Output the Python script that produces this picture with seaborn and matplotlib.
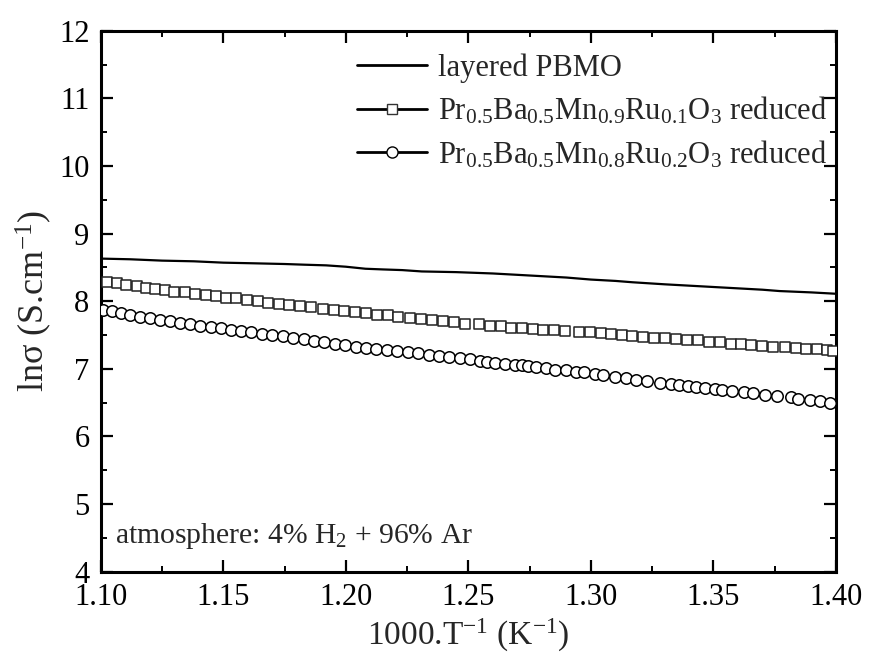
import numpy as np
import pandas as pd
import seaborn as sns
import matplotlib.pyplot as plt
from matplotlib.lines import Line2D
from matplotlib.ticker import MultipleLocator

# layered PBMO (solid line)
pbmo_x = [1.100, 1.112, 1.125, 1.138, 1.150, 1.163, 1.175, 1.183, 1.192, 1.200,
          1.208, 1.215, 1.223, 1.231, 1.245, 1.260, 1.270, 1.280, 1.290, 1.300,
          1.310, 1.317, 1.330, 1.340, 1.350, 1.360, 1.370, 1.377, 1.390, 1.400]
pbmo_y = [8.63, 8.62, 8.60, 8.59, 8.57, 8.56, 8.55, 8.54, 8.53, 8.51,
          8.48, 8.47, 8.46, 8.44, 8.43, 8.41, 8.39, 8.37, 8.35, 8.32,
          8.30, 8.28, 8.25, 8.23, 8.21, 8.19, 8.17, 8.15, 8.13, 8.11]

# Pr0.5Ba0.5Mn0.9Ru0.1O3 reduced (squares)
ru1_x = [1.1025, 1.1065, 1.1105, 1.1148, 1.1185, 1.1222, 1.1262, 1.1301, 1.1342, 1.1385,
         1.1428, 1.1470, 1.1512, 1.1553, 1.1597, 1.1640, 1.1683, 1.1726, 1.1770, 1.1815,
         1.1860, 1.1905, 1.1950, 1.1993, 1.2038, 1.2083, 1.2128, 1.2172, 1.2215, 1.2260,
         1.2306, 1.2350, 1.2395, 1.2440, 1.2485, 1.2545, 1.2590, 1.2633, 1.2675, 1.2720,
         1.2762, 1.2805, 1.2850, 1.2893, 1.2950, 1.2995, 1.3040, 1.3083, 1.3125, 1.3168,
         1.3212, 1.3258, 1.3303, 1.3348, 1.3392, 1.3436, 1.3480, 1.3525, 1.3570, 1.3612,
         1.3655, 1.3700, 1.3745, 1.3790, 1.3835, 1.3878, 1.3922, 1.3965, 1.3988]
ru1_y = [8.29, 8.27, 8.24, 8.22, 8.20, 8.18, 8.16, 8.14, 8.13, 8.11,
         8.09, 8.07, 8.05, 8.04, 8.02, 8.00, 7.98, 7.96, 7.95, 7.93,
         7.91, 7.89, 7.87, 7.85, 7.84, 7.82, 7.80, 7.79, 7.77, 7.75,
         7.74, 7.72, 7.70, 7.69, 7.67, 7.66, 7.64, 7.63, 7.61, 7.60,
         7.59, 7.58, 7.57, 7.56, 7.55, 7.54, 7.53, 7.52, 7.50, 7.49,
         7.47, 7.46, 7.45, 7.44, 7.43, 7.42, 7.40, 7.39, 7.37, 7.36,
         7.35, 7.34, 7.33, 7.32, 7.31, 7.30, 7.29, 7.28, 7.27]

# Pr0.5Ba0.5Mn0.8Ru0.2O3 reduced (circles)
ru2_x = [1.1010, 1.1045, 1.1082, 1.1120, 1.1160, 1.1200, 1.1240, 1.1282, 1.1322, 1.1365,
         1.1405, 1.1448, 1.1490, 1.1530, 1.1572, 1.1615, 1.1658, 1.1700, 1.1742, 1.1785,
         1.1828, 1.1870, 1.1912, 1.1955, 1.1998, 1.2040, 1.2083, 1.2125, 1.2168, 1.2210,
         1.2252, 1.2295, 1.2338, 1.2380, 1.2422, 1.2465, 1.2505, 1.2548, 1.2578, 1.2610,
         1.2650, 1.2690, 1.2720, 1.2745, 1.2775, 1.2815, 1.2855, 1.2898, 1.2940, 1.2970,
         1.3015, 1.3050, 1.3098, 1.3145, 1.3185, 1.3230, 1.3280, 1.3325, 1.3360, 1.3395,
         1.3430, 1.3465, 1.3505, 1.3535, 1.3575, 1.3625, 1.3660, 1.3710, 1.3760, 1.3815,
         1.3845, 1.3893, 1.3935, 1.3975]
ru2_y = [7.87, 7.85, 7.82, 7.80, 7.77, 7.75, 7.72, 7.70, 7.68, 7.66,
         7.64, 7.62, 7.60, 7.58, 7.56, 7.54, 7.52, 7.50, 7.48, 7.46,
         7.44, 7.41, 7.39, 7.37, 7.35, 7.33, 7.31, 7.30, 7.28, 7.26,
         7.25, 7.23, 7.21, 7.19, 7.17, 7.16, 7.14, 7.12, 7.10, 7.09,
         7.07, 7.06, 7.05, 7.04, 7.03, 7.01, 6.99, 6.98, 6.96, 6.95,
         6.93, 6.91, 6.88, 6.86, 6.84, 6.82, 6.79, 6.78, 6.76, 6.75,
         6.73, 6.72, 6.70, 6.69, 6.67, 6.66, 6.64, 6.62, 6.60, 6.58,
         6.56, 6.54, 6.52, 6.50]

labels = ['layered PBMO',
          'Pr$_{0.5}$Ba$_{0.5}$Mn$_{0.9}$Ru$_{0.1}$O$_3$ reduced',
          'Pr$_{0.5}$Ba$_{0.5}$Mn$_{0.8}$Ru$_{0.2}$O$_3$ reduced']

sns.set_style('ticks')
plt.rcParams['font.family'] = ['Liberation Serif', 'DejaVu Serif']
plt.rcParams['mathtext.fontset'] = 'custom'
plt.rcParams['mathtext.rm'] = 'Liberation Serif'
plt.rcParams['mathtext.it'] = 'Liberation Serif:italic'
plt.rcParams['mathtext.default'] = 'rm'

fig = plt.figure(figsize=(8.69, 6.56), dpi=100)
ax = fig.add_axes([0.1159, 0.1285, 0.8461, 0.8247])

sns.lineplot(x=pbmo_x, y=pbmo_y, ax=ax, color='black', linewidth=1.6)
sns.scatterplot(x=ru1_x, y=ru1_y, ax=ax, marker='s', s=45, facecolor='white',
                edgecolor='#222222', linewidth=1.1, zorder=3)
sns.scatterplot(x=ru2_x, y=ru2_y, ax=ax, marker='o', s=68, facecolor='white',
                edgecolor='black', linewidth=1.1, zorder=4)

ax.set_xlim(1.10, 1.40)
ax.set_ylim(4, 12)
ax.xaxis.set_major_locator(MultipleLocator(0.05))
ax.xaxis.set_minor_locator(MultipleLocator(0.025))
ax.yaxis.set_major_locator(MultipleLocator(1))
ax.yaxis.set_minor_locator(MultipleLocator(0.5))
ax.set_xticklabels([f'{v:.2f}' for v in ax.get_xticks()])

ax.tick_params(which='both', direction='in', top=True, right=True,
               labelsize=22, pad=8, colors='black')
ax.tick_params(which='major', length=8.5, width=1.6)
ax.tick_params(which='minor', length=4.5, width=1.4)
for sp in ax.spines.values():
    sp.set_linewidth(2.2)
    sp.set_color('black')

ax.set_xlabel('1000.T$^{-1}$ (K$^{-1}$)', fontsize=24, labelpad=4)
ax.set_ylabel('ln\u03c3 (S.cm$^{-1}$)', fontsize=26, labelpad=4)

ax.text(0.019, 0.053, 'atmosphere: 4% H$_2$ + 96% Ar', transform=ax.transAxes,
        fontsize=21.3, ha='left', va='baseline')

handles = [
    Line2D([], [], color='black', linewidth=2.0),
    Line2D([], [], color='black', linewidth=2.0, marker='s', markersize=7,
           markerfacecolor='white', markeredgecolor='#333333', markeredgewidth=1.0),
    Line2D([], [], color='black', linewidth=2.0, marker='o', markersize=8,
           markerfacecolor='white', markeredgecolor='black', markeredgewidth=1.0),
]
ax.legend(handles, labels, loc='upper left', bbox_to_anchor=(0.319, 0.998),
          frameon=False, fontsize=22, handlelength=2.3, handletextpad=0.35,
          labelspacing=0.4, borderpad=0.2)

fig.savefig('out.png', dpi=100)
